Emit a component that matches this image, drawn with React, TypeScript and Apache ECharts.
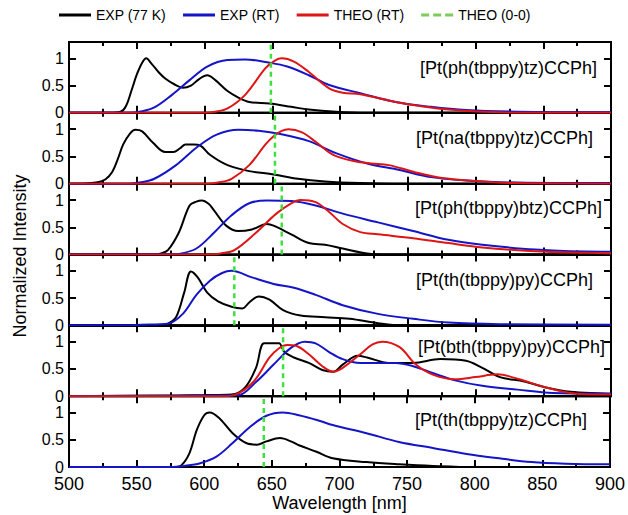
import React, { useEffect, useRef } from 'react';
import * as echarts from 'echarts';

type Pt = [number, number];

const legendNames = ['EXP (77 K)', 'EXP (RT)', 'THEO (RT)', 'THEO (0-0)'];
const panelLabels = [
  '[Pt(ph(tbppy)tz)CCPh]',
  '[Pt(na(tbppy)tz)CCPh]',
  '[Pt(ph(tbppy)btz)CCPh]',
  '[Pt(th(tbppy)py)CCPh]',
  '[Pt(bth(tbppy)py)CCPh]',
  '[Pt(th(tbppy)tz)CCPh]',
];
const xTicks = [500, 550, 600, 650, 700, 750, 800, 850, 900];
const yTickLabels = [0, 0.5, 1];

// Panel 1
const p1Exp77: Pt[] = [[500,0],[530,0],[538,0.02],[542,0.12],[546,0.4],[550,0.7],[554,0.92],[557,1.0],[561,0.9],[566,0.75],[571,0.63],[578,0.52],[584,0.46],[590,0.5],[596,0.62],[602,0.69],[608,0.6],[617,0.4],[625,0.28],[633,0.2],[648,0.17],[664,0.11],[677,0.06],[697,0.02],[720,0],[900,0]];
const p1ExpRT: Pt[] = [[500,0],[545,0],[552,0.02],[563,0.1],[576,0.33],[589,0.6],[602,0.85],[617,0.97],[630,0.98],[648,0.92],[661,0.85],[677,0.69],[692,0.51],[715,0.36],[741,0.2],[767,0.11],[793,0.05],[831,0.02],[900,0.01]];
const p1Theo: Pt[] = [[500,0],[600,0],[608,0.02],[617,0.08],[630,0.33],[645,0.82],[652,0.96],[657,1.0],[666,0.94],[677,0.75],[692,0.45],[702,0.37],[715,0.34],[741,0.2],[760,0.12],[780,0.06],[805,0.02],[830,0],[900,0]];

// Panel 2
const p2Exp77: Pt[] = [[500,0],[508,0],[515,0.01],[522,0.03],[527,0.08],[532,0.22],[536,0.45],[540,0.72],[545,0.92],[549,0.99],[554,0.96],[562,0.75],[571,0.58],[577,0.58],[582,0.65],[586,0.72],[592,0.72],[597,0.7],[604,0.53],[617,0.34],[633,0.23],[651,0.17],[669,0.09],[689,0.04],[715,0.01],[740,0],[900,0]];
const p2ExpRT: Pt[] = [[500,0],[545,0],[552,0.02],[563,0.09],[579,0.34],[594,0.66],[609,0.9],[625,0.99],[640,0.97],[656,0.91],[677,0.78],[697,0.56],[720,0.37],[744,0.25],[767,0.12],[793,0.06],[831,0.02],[900,0.01]];
const p2Theo: Pt[] = [[500,0],[603,0],[610,0.02],[620,0.09],[633,0.34],[645,0.72],[651,0.87],[657,0.97],[662,1.0],[672,0.94],[683,0.75],[695,0.53],[711,0.41],[723,0.37],[736,0.34],[754,0.22],[774,0.11],[805,0.04],[830,0.01],[900,0]];

// Panel 3
const p3Exp77: Pt[] = [[500,0],[563,0],[568,0.02],[573,0.08],[581,0.4],[589,0.9],[594,0.97],[598,0.99],[603,0.93],[607,0.81],[616,0.53],[625,0.43],[635,0.46],[646,0.56],[651,0.53],[664,0.37],[677,0.21],[689,0.18],[702,0.11],[720,0.02],[735,0],[900,0]];
const p3ExpRT: Pt[] = [[500,0],[575,0],[581,0.01],[594,0.11],[607,0.4],[620,0.72],[633,0.94],[646,0.99],[664,0.98],[682,0.9],[702,0.75],[728,0.59],[754,0.43],[780,0.27],[805,0.18],[844,0.09],[893,0.05],[900,0.05]];
const p3Theo: Pt[] = [[500,0],[605,0],[612,0.02],[622,0.08],[638,0.4],[653,0.75],[664,0.94],[671,1.0],[682,0.96],[692,0.78],[702,0.56],[715,0.41],[728,0.37],[754,0.3],[780,0.21],[805,0.13],[844,0.06],[883,0.03],[900,0.02]];

// Panel 4
const p4Exp77: Pt[] = [[500,0],[568,0],[573,0.03],[579,0.15],[585,0.6],[590,0.99],[595,0.88],[602,0.6],[610,0.44],[620,0.34],[628,0.31],[633,0.42],[640,0.53],[648,0.47],[658,0.28],[671,0.18],[689,0.15],[707,0.12],[728,0.04],[745,0],[900,0]];
const p4ExpRT: Pt[] = [[500,0],[540,0],[553,0.01],[573,0.03],[584,0.21],[594,0.56],[604,0.82],[613,0.96],[620,1.0],[635,0.88],[651,0.76],[666,0.69],[682,0.56],[702,0.37],[728,0.21],[754,0.12],[780,0.05],[818,0.02],[900,0.01]];

// Panel 5
const p5Exp77: Pt[] = [[500,0],[560,0.01],[600,0.02],[620,0.03],[630,0.16],[638,0.52],[644,0.97],[651,0.97],[655,0.97],[659,0.81],[666,0.71],[677,0.61],[687,0.48],[695,0.45],[702,0.58],[713,0.74],[720,0.71],[736,0.61],[754,0.61],[774,0.68],[793,0.65],[805,0.52],[818,0.35],[836,0.27],[852,0.16],[870,0.08],[893,0.05],[900,0.04]];
const p5ExpRT: Pt[] = [[500,0],[600,0.01],[625,0.02],[638,0.26],[651,0.58],[664,0.89],[674,1.0],[682,0.97],[692,0.81],[702,0.68],[715,0.61],[741,0.61],[754,0.55],[769,0.42],[785,0.29],[805,0.19],[831,0.12],[857,0.06],[893,0.05],[900,0.05]];
const p5Theo: Pt[] = [[500,0],[615,0],[622,0.02],[636,0.26],[648,0.71],[655,0.88],[661,0.94],[668,0.92],[677,0.77],[687,0.55],[695,0.45],[702,0.52],[715,0.77],[724,0.95],[731,1.0],[744,0.9],[756,0.58],[769,0.39],[785,0.31],[800,0.35],[816,0.4],[831,0.32],[852,0.16],[870,0.06],[893,0.03],[900,0.03]];

// Panel 6
const p6Exp77: Pt[] = [[500,0],[578,0],[583,0.03],[589,0.25],[594.5,0.68],[600,0.95],[604,1.0],[611,0.9],[621,0.62],[631,0.44],[639,0.41],[646,0.47],[656,0.53],[665,0.46],[670,0.4],[683,0.28],[695,0.16],[720,0.09],[744,0.05],[769,0.02],[800,0],[900,0]];
const p6ExpRT: Pt[] = [[500,0],[575,0],[585,0.02],[597,0.07],[609,0.19],[621,0.44],[634,0.74],[646,0.94],[658,1.0],[670,0.95],[685,0.85],[695,0.77],[720,0.62],[744,0.46],[769,0.35],[794,0.24],[818,0.16],[842,0.09],[867,0.06],[897,0.05],[900,0.05]];

// THEO (0-0) positions, nm
const zeroZero = [649, 652, 657, 622, 658, 644];

const panels: { exp77: Pt[]; expRT: Pt[]; theo: Pt[] | null }[] = [
  { exp77: p1Exp77, expRT: p1ExpRT, theo: p1Theo },
  { exp77: p2Exp77, expRT: p2ExpRT, theo: p2Theo },
  { exp77: p3Exp77, expRT: p3ExpRT, theo: p3Theo },
  { exp77: p4Exp77, expRT: p4ExpRT, theo: null },
  { exp77: p5Exp77, expRT: p5ExpRT, theo: p5Theo },
  { exp77: p6Exp77, expRT: p6ExpRT, theo: null },
];

const COLORS = ['#000000', '#1515c8', '#dd1515', '#3ee03e'];
const LEGEND_GREEN = '#7ccc5a';
const FONT = '"Liberation Sans", Arial, Helvetica, sans-serif';

// layout
const TOP = 42;
const BOTTOM = 467;
const LEFT = 69;
const RIGHT = 611;
const Y_MAX = 1.3;
const labelRight = [597, 593, 602, 593, 605, 587];
const labelDy = [26, 25, 24, 25.5, 22, 24];

const SOLID_ICON = 'path://M0,0H32V3H0Z';
const DASH_ICON = 'path://M0,0H8V3H0Z M12,0H20V3H12Z M24,0H32V3H24Z';

export default function App() {
  const ref = useRef<HTMLDivElement>(null);

  useEffect(() => {
    if (!ref.current) return;
    document.body.style.margin = '0';
    const chart = echarts.init(ref.current, null, { renderer: 'svg' });
    const N = panels.length;
    const H = (BOTTOM - TOP) / N;

    const grid: any[] = [];
    const xAxis: any[] = [];
    const yAxis: any[] = [];
    const series: any[] = [];

    const tickStyle = { color: '#000', width: 2 };

    panels.forEach((p, i) => {
      grid.push({
        left: LEFT,
        top: TOP + i * H,
        width: RIGHT - LEFT,
        height: H,
        show: true,
        borderColor: '#000',
        borderWidth: 2,
        backgroundColor: 'rgba(0,0,0,0)',
      });
      const isLast = i === N - 1;
      const xBase = (position: string, labels: boolean) => ({
        gridIndex: i,
        type: 'value',
        min: xTicks[0],
        max: xTicks[xTicks.length - 1],
        interval: xTicks[1] - xTicks[0],
        position,
        axisLine: { show: true, onZero: false, lineStyle: { color: '#000', width: 2 } },
        axisTick: { show: true, inside: true, length: 7, lineStyle: tickStyle },
        minorTick: { show: true, splitNumber: 2, length: 4, lineStyle: tickStyle },
        splitLine: { show: false },
        minorSplitLine: { show: false },
        axisLabel: { show: labels, fontSize: 18, color: '#000', margin: 8, fontFamily: FONT },
      });
      xAxis.push({
        ...xBase('bottom', isLast),
        name: isLast ? 'Wavelength [nm]' : '',
        nameLocation: 'middle',
        nameGap: 27,
        nameTextStyle: { fontSize: 18, color: '#000', fontFamily: FONT },
      });
      xAxis.push(xBase('top', false));

      const yBase = (position: string, labels: boolean) => ({
        gridIndex: i,
        type: 'value',
        min: 0,
        max: Y_MAX,
        interval: 0.5,
        position,
        axisLine: { show: true, onZero: false, lineStyle: { color: '#000', width: 2 } },
        axisTick: { show: true, inside: true, length: 7, lineStyle: tickStyle },
        splitLine: { show: false },
        axisLabel: {
          show: labels,
          fontSize: 16,
          lineHeight: 16,
          color: '#000',
          margin: 5,
          fontFamily: FONT,
          formatter: (v: number) =>
            yTickLabels.some((t) => Math.abs(t - v) < 1e-9) ? String(v) : '',
        },
      });
      yAxis.push(yBase('left', true));
      yAxis.push(yBase('right', false));

      const common = {
        type: 'line',
        xAxisIndex: 2 * i,
        yAxisIndex: 2 * i,
        symbol: 'none',
        showSymbol: false,
        smooth: 0.35,
        clip: true,
      };
      series.push({
        ...common,
        name: legendNames[0],
        data: p.exp77,
        lineStyle: { color: COLORS[0], width: 2 },
        itemStyle: { color: COLORS[0] },
        z: 2,
      });
      series.push({
        ...common,
        name: legendNames[1],
        data: p.expRT,
        lineStyle: { color: COLORS[1], width: 2 },
        itemStyle: { color: COLORS[1] },
        z: 3,
      });
      if (p.theo) {
        series.push({
          ...common,
          name: legendNames[2],
          data: p.theo,
          lineStyle: { color: COLORS[2], width: 2 },
          itemStyle: { color: COLORS[2] },
          z: 4,
        });
      }
      series.push({
        ...common,
        smooth: false,
        name: legendNames[3],
        data: [
          [zeroZero[i], 0],
          [zeroZero[i], Y_MAX],
        ],
        lineStyle: { color: COLORS[3], width: 2.5, type: [5, 4] },
        itemStyle: { color: COLORS[3] },
        z: 5,
      });
    });

    const graphic: any[] = panelLabels.map((t, i) => ({
      type: 'text',
      x: labelRight[i],
      y: TOP + i * H + labelDy[i],
      z: 100,
      style: {
        text: t,
        font: `18px ${FONT}`,
        fill: '#000',
        textAlign: 'right',
        textVerticalAlign: 'middle',
        align: 'right',
        verticalAlign: 'middle',
      },
    }));
    graphic.push({
      type: 'text',
      x: 20,
      y: 256,
      rotation: Math.PI / 2,
      style: {
        text: 'Normalized Intensity',
        font: `18px ${FONT}`,
        fill: '#000',
        textAlign: 'center',
        textVerticalAlign: 'middle',
        align: 'center',
        verticalAlign: 'middle',
      },
    });

    chart.setOption({
      animation: false,
      backgroundColor: '#fff',
      legend: {
        data: legendNames.map((name, k) => ({
          name,
          icon: k === 3 ? DASH_ICON : SOLID_ICON,
          itemStyle: { color: k === 3 ? LEGEND_GREEN : COLORS[k], borderWidth: 0 },
        })),
        left: 59,
        top: 8,
        padding: 0,
        itemWidth: 32,
        itemHeight: 3,
        itemGap: 17,
        textStyle: { fontSize: 14, color: '#000', fontFamily: FONT },
      },
      grid,
      xAxis,
      yAxis,
      series,
      graphic,
    });

    return () => chart.dispose();
  }, []);

  return (
    <div
      ref={ref}
      style={{ position: 'fixed', left: 0, top: 0, width: 628, height: 515, background: '#fff' }}
    />
  );
}
